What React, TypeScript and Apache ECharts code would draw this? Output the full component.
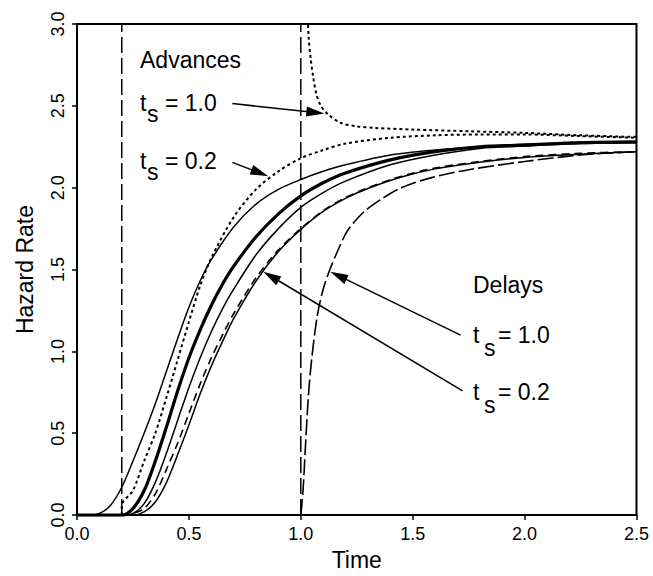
import React, { useEffect, useRef } from "react";
import * as echarts from "echarts";

const FONT = '"Liberation Sans", Arial, Helvetica, sans-serif';

// Tick labels
const xTicks = [0, 0.5, 1.0, 1.5, 2.0, 2.5];
const yTicks = [0, 0.5, 1.0, 1.5, 2.0, 2.5, 3.0];

// Perturbation times (vertical dashed markers)
const perturbTimes = [0.2, 1.0];

// Baseline hazard (thick line)
const baseX = [0, 0.2, 0.25, 0.3, 0.35, 0.4, 0.45, 0.5, 0.55, 0.6, 0.65, 0.7, 0.8, 0.9, 1.0, 1.1, 1.2, 1.4, 1.6, 1.8, 2.0, 2.25, 2.5];
const baseY = [0, 0, 0.04, 0.15, 0.33, 0.54, 0.76, 0.96, 1.13, 1.28, 1.41, 1.52, 1.7, 1.84, 1.95, 2.03, 2.09, 2.17, 2.22, 2.25, 2.26, 2.275, 2.28];

// Thin solid reference curves
const thin1X = [0, 0.05, 0.1, 0.15, 0.2, 0.25, 0.3, 0.35, 0.4, 0.45, 0.5, 0.55, 0.6, 0.7, 0.8, 0.9, 1.0, 1.1, 1.2, 1.4, 1.6, 1.8, 2.0, 2.25, 2.5];
const thin1Y = [0, 0, 0.01, 0.06, 0.17, 0.33, 0.5, 0.68, 0.88, 1.08, 1.27, 1.43, 1.56, 1.76, 1.9, 1.99, 2.05, 2.1, 2.14, 2.2, 2.23, 2.25, 2.265, 2.275, 2.28];

const thin2X = [0.15, 0.2, 0.25, 0.3, 0.35, 0.4, 0.45, 0.5, 0.55, 0.6, 0.65, 0.7, 0.8, 0.9, 1.0, 1.1, 1.2, 1.4, 1.6, 1.8, 2.0, 2.25, 2.5];
const thin2Y = [0, 0, 0.01, 0.07, 0.2, 0.38, 0.58, 0.78, 0.96, 1.12, 1.26, 1.38, 1.59, 1.75, 1.88, 1.97, 2.04, 2.14, 2.2, 2.24, 2.255, 2.27, 2.275];

const thin3X = [0.2, 0.25, 0.3, 0.35, 0.4, 0.45, 0.5, 0.55, 0.6, 0.65, 0.7, 0.8, 0.9, 1.0, 1.1, 1.2, 1.3, 1.45, 1.6, 1.8, 2.0, 2.25, 2.5];
const thin3Y = [0, 0, 0.02, 0.08, 0.2, 0.37, 0.55, 0.74, 0.91, 1.06, 1.2, 1.43, 1.61, 1.745, 1.855, 1.935, 1.995, 2.065, 2.115, 2.155, 2.185, 2.205, 2.22];

// Advance at t_s = 0.2 (dotted)
const adv02X = [0.2, 0.2, 0.25, 0.3, 0.35, 0.4, 0.45, 0.5, 0.55, 0.6, 0.7, 0.8, 0.9, 1.0, 1.1, 1.2, 1.4, 1.6, 1.8, 2.0, 2.25, 2.5];
const adv02Y = [0, 0.06, 0.15, 0.33, 0.5, 0.72, 0.95, 1.18, 1.4, 1.57, 1.82, 1.99, 2.1, 2.18, 2.23, 2.27, 2.305, 2.32, 2.325, 2.325, 2.315, 2.305];

// Advance at t_s = 1.0 (dotted)
const adv10X = [1.005, 1.015, 1.025, 1.035, 1.045, 1.055, 1.07, 1.09, 1.12, 1.18, 1.25, 1.33, 1.5, 1.75, 2.0, 2.25, 2.5];
const adv10Y = [6, 4.2, 3.3, 2.92, 2.78, 2.68, 2.57, 2.5, 2.45, 2.395, 2.375, 2.365, 2.355, 2.345, 2.335, 2.32, 2.31];

// Delay at t_s = 0.2 (dashed)
const del02X = [0.2, 0.25, 0.3, 0.35, 0.4, 0.45, 0.5, 0.55, 0.6, 0.65, 0.7, 0.8, 0.9, 1.0, 1.1, 1.2, 1.3, 1.45, 1.6, 1.8, 2.0, 2.25, 2.5];
const del02Y = [0, 0.01, 0.04, 0.13, 0.28, 0.44, 0.62, 0.8, 0.96, 1.1, 1.23, 1.45, 1.62, 1.75, 1.86, 1.94, 2.0, 2.07, 2.12, 2.16, 2.19, 2.21, 2.22];

// Delay at t_s = 1.0 (long dashed)
const del10X = [1.0, 1.01, 1.02, 1.034, 1.05, 1.074, 1.1, 1.13, 1.17, 1.21, 1.28, 1.36, 1.45, 1.58, 1.75, 2.0, 2.25, 2.5];
const del10Y = [0, 0.15, 0.4, 0.73, 0.97, 1.22, 1.38, 1.5, 1.63, 1.74, 1.85, 1.93, 2.0, 2.06, 2.11, 2.16, 2.2, 2.22];

// Annotation arrows: [fromX, fromY, toX, toY] in data units
const arrows = [
  [0.694, 2.514, 1.065, 2.459],
  [0.694, 2.155, 0.817, 2.09],
  [1.714, 1.099, 1.168, 1.463],
  [1.723, 0.759, 0.867, 1.459],
];

const zip = (xs: number[], ys: number[]) => xs.map((x, i) => [x, ys[i]]);

export default function App() {
  const ref = useRef<HTMLDivElement>(null);
  useEffect(() => {
    document.body.style.margin = "0";
    const chart = echarts.init(ref.current!, undefined, { renderer: "svg" });

    const lineSeries = (
      name: string,
      xs: number[],
      ys: number[],
      width: number,
      type: any,
      extra: any = {}
    ) => ({
      name,
      type: "line",
      data: zip(xs, ys),
      showSymbol: false,
      symbol: "none",
      smooth: 0.3,
      clip: true,
      silent: true,
      lineStyle: { color: "#000", width, type },
      z: 3,
      ...extra,
    });

    const txt = (text: string, x: number, y: number, size = 23) => ({
      type: "text",
      x,
      y,
      silent: true,
      style: {
        text,
        fill: "#000",
        font: `${size}px ${FONT}`,
        fontSize: size,
        fontFamily: FONT,
        textAlign: "left",
        textVerticalAlign: "middle",
        verticalAlign: "middle",
      },
    });

    const option: any = {
      animation: false,
      backgroundColor: "#fff",
      grid: {
        left: 77,
        right: 16.5,
        top: 24,
        bottom: 58,
        show: true,
        borderColor: "#000",
        borderWidth: 2,
        backgroundColor: "transparent",
      },
      xAxis: {
        type: "value",
        min: 0,
        max: 2.5,
        interval: 0.5,
        name: "Time",
        nameLocation: "middle",
        nameGap: 32,
        nameTextStyle: { color: "#000", fontSize: 23, fontFamily: FONT },
        axisLine: { show: true, onZero: false, lineStyle: { color: "#000", width: 2 } },
        axisTick: { show: true, inside: false, length: 5, lineStyle: { color: "#000", width: 1.5 } },
        axisLabel: {
          color: "#000",
          fontSize: 18,
          fontFamily: FONT,
          margin: 10,
          formatter: (v: number) => (xTicks.includes(v) ? v.toFixed(1) : ""),
        },
        splitLine: { show: false },
      },
      yAxis: {
        type: "value",
        min: 0,
        max: 3,
        interval: 0.5,
        name: "Hazard Rate",
        nameLocation: "middle",
        nameGap: 41,
        nameTextStyle: { color: "#000", fontSize: 23, fontFamily: FONT },
        axisLine: { show: true, onZero: false, lineStyle: { color: "#000", width: 2 } },
        axisTick: { show: true, inside: false, length: 5, lineStyle: { color: "#000", width: 1.5 } },
        axisLabel: {
          color: "#000",
          fontSize: 18,
          fontFamily: FONT,
          rotate: 90,
          margin: 10,
          formatter: (v: number) => (yTicks.includes(v) ? v.toFixed(1) : ""),
        },
        splitLine: { show: false },
      },
      series: [
        ...perturbTimes.map((t, i) => ({
          name: "ts" + i,
          type: "line",
          data: [
            [t, 0],
            [t, 3],
          ],
          showSymbol: false,
          symbol: "none",
          silent: true,
          lineStyle: { color: "#000", width: 1.5, type: [16, 5] },
          z: 2,
        })),
        lineSeries("thin1", thin1X, thin1Y, 1.5, "solid"),
        lineSeries("thin2", thin2X, thin2Y, 1.5, "solid"),
        lineSeries("thin3", thin3X, thin3Y, 1.5, "solid"),
        lineSeries("adv02", adv02X, adv02Y, 2, [3, 3]),
        lineSeries("adv10", adv10X, adv10Y, 2, [3, 3]),
        lineSeries("del02", del02X, del02Y, 1.6, [8, 5]),
        lineSeries("del10", del10X, del10Y, 1.6, [16, 4]),
        lineSeries("base", baseX, baseY, 3.2, "solid", {
          z: 4,
          markLine: {
            silent: true,
            animation: false,
            symbol: ["none", "triangle"],
            symbolSize: [0, [10, 18]],
            label: { show: false },
            emphasis: { disabled: true },
            lineStyle: { color: "#000", width: 1.5, type: "solid" },
            data: arrows.map((a) => [
              { coord: [a[0], a[1]], symbol: "none" },
              { coord: [a[2], a[3]], symbol: "triangle", symbolSize: [10, 18] },
            ]),
          },
        }),
      ],
      graphic: [
        txt("Advances", 140, 60),
        txt("t", 140, 103),
        txt("s", 147, 114),
        txt("= 1.0", 165, 103),
        txt("t", 140, 161),
        txt("s", 147, 172),
        txt("= 0.2", 165, 161),
        txt("Delays", 473, 285),
        txt("t", 473, 335),
        txt("s", 484, 348),
        txt("= 1.0", 498, 335),
        txt("t", 473, 392),
        txt("s", 484, 405),
        txt("= 0.2", 498, 392),
      ],
    };
    chart.setOption(option);
    return () => chart.dispose();
  }, []);
  return (
    <div
      ref={ref}
      style={{ position: "absolute", left: 0, top: 0, width: 653, height: 576, background: "#fff" }}
    />
  );
}
